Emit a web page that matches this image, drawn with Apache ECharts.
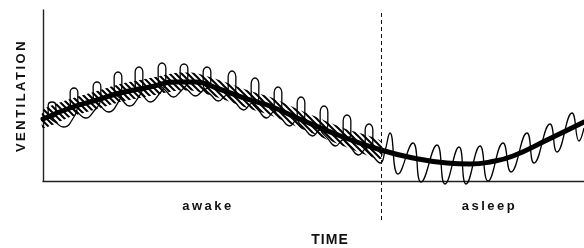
<!DOCTYPE html>
<html><head><meta charset="utf-8">
<script src="https://cdn.jsdelivr.net/npm/echarts@6/dist/echarts.min.js"></script>
<style>html,body{margin:0;padding:0;background:#fff}#c{width:584px;height:248px}</style>
</head><body><div id="c"></div>
<script>
// ---- data (arbitrary units: x = time, y = ventilation) ----
const trend = [[0,62],[27,73],[54,81],[77,88],[107,94],[132,99],[152,99],[176,92],[207,81],[227,75],[259,61],[300,44],[338,31],[370,23],[404,18],[427,17],[447,19],[470,25],[504,41],[541,59]];
const bandUpper = [[0,71],[27,82],[54,90],[77,97],[107,103],[132,108],[152,108],[176,101],[207,90],[227,84],[259,70],[300,53],[338,40]];
const bandLower = [[0,53],[27,64],[54,72],[77,79],[107,85],[132,90],[152,90],[176,83],[207,72],[227,66],[259,52],[300,35],[338,22]];
// awake breaths: looped (coil-like) trace, one loop per breath
const breathsAwake = [
 [0,62],
 [12.75,66.5],[12.85,75.3],[9,79],[5.15,75.3],[5.25,66.5],[14,57.7],[20.5,54],[27,57.7],
 [34.75,78],[34.85,88.6],[31,93],[27.15,88.6],[27.25,78],[36,67.4],[42.5,63],[49,67.4],
 [57.75,84],[57.85,94.6],[54,99],[50.15,94.6],[50.25,84],[59,73.4],[65.5,69],[72,73.4],
 [78.75,92],[78.85,104],[75,109],[71.15,104],[71.25,92],[80,80],[86.5,75],[93,80],
 [99.75,96.5],[99.85,108.9],[96,114],[92.15,108.9],[92.25,96.5],[101,84.1],[107.5,79],[114,84.1],
 [122.75,101],[122.85,113],[119,118],[115.15,113],[115.25,101],[124,89],[130.5,84],[137,89],
 [144.75,101],[144.85,112.3],[141,117],[137.15,112.3],[137.25,101],[146,89.7],[152.5,85],[159,89.7],
 [167.75,97],[167.85,109],[164,114],[160.15,109],[160.25,97],[169,85],[175.5,80],[182,85],
 [192.75,90.5],[192.85,104.3],[189,110],[185.15,104.3],[185.25,90.5],[194,76.7],[200.5,71],[207,76.7],
 [215.75,83],[215.85,97.1],[212,103],[208.15,97.1],[208.25,83],[217,68.9],[223.5,63],[230,68.9],
 [238.75,74.5],[238.85,88.3],[235,94],[231.15,88.3],[231.25,74.5],[240,60.7],[246.5,55],[253,60.7],
 [261.75,64.5],[261.85,78.3],[258,84],[254.15,78.3],[254.25,64.5],[263,50.7],[269.5,45],[276,50.7],
 [284.75,55],[284.85,69.1],[281,75],[277.15,69.1],[277.25,55],[286,40.9],[292.5,35],[299,40.9],
 [307.75,46],[307.85,60.1],[304,66],[300.15,60.1],[300.25,46],[309,31.9],[315.5,26],[322,31.9],
 [329.75,37.5],[329.85,51.3],[326,57],[322.15,51.3],[322.25,37.5],[331,23.7],[337.5,18],[342,30]
];
// asleep breaths: tops and troughs
const breathsAsleep = [
 [347,48],[355,7],[370,38],[378,-1],[394,36],[402,-3],[416,34],[423,-3],
 [437,35],[445,0],[460,38],[468,9],[484,48],[491,18],[507,57],[514,29],
 [529,68],[536,40],[541,53]
];
const regions = [{name:'awake', from:0, to:338, shift:-4}, {name:'asleep', from:338, to:541, shift:7}];
const sleepOnset = 338;
const xMax = 541, yMax = 171;

// letter spacing for the spaced-out lettering
(function(){
  const p = CanvasRenderingContext2D.prototype, f = p.fillText, m = p.measureText;
  const sp = ctx => /14px/.test(ctx.font) ? '1px' : '2.5px';
  p.fillText = function(){ this.letterSpacing = sp(this); return f.apply(this, arguments); };
  p.measureText = function(){ this.letterSpacing = sp(this); return m.apply(this, arguments); };
})();

function hatchPattern(){
  const s = 6, c = document.createElement('canvas');
  c.width = c.height = s;
  const g = c.getContext('2d');
  g.strokeStyle = '#000'; g.lineWidth = 2;
  g.beginPath();
  g.moveTo(-1,-1); g.lineTo(s+1,s+1);
  g.moveTo(s-1,-1); g.lineTo(s+1,1);
  g.moveTo(-1,s-1); g.lineTo(1,s+1);
  g.stroke();
  return {image: c, repeat: 'repeat'};
}
const pattern = hatchPattern();
const font = '"Liberation Sans", Arial, sans-serif';

const chart = echarts.init(document.getElementById('c'), null, {renderer:'canvas'});
chart.setOption({
  animation: false,
  grid: [
    {left:43, right:0, top:10, height:171, outerBoundsMode:'none', containLabel:false},
    {left:43, right:0, top:10, height:210, outerBoundsMode:'none', containLabel:false}
  ],
  xAxis: [
    {type:'value', min:0, max:xMax, gridIndex:0,
     axisLine:{show:true, lineStyle:{color:'#222', width:1.4}}, axisTick:{show:false}, axisLabel:{show:false}, splitLine:{show:false},
     name:'TIME', nameLocation:'middle', nameGap:52,
     nameTextStyle:{fontFamily:font, fontWeight:'bold', fontSize:14, color:'#111', padding:[0,0,0,33]}},
    {type:'value', min:0, max:xMax, gridIndex:1, show:false}
  ],
  yAxis: [
    {type:'value', min:0, max:yMax, gridIndex:0,
     axisLine:{show:true, lineStyle:{color:'#222', width:1.4}}, axisTick:{show:false}, axisLabel:{show:false}, splitLine:{show:false},
     name:'VENTILATION', nameLocation:'middle', nameGap:14, nameRotate:90,
     nameTextStyle:{fontFamily:font, fontWeight:'bold', fontSize:13, color:'#111'}},
    {type:'value', min:0, max:1, gridIndex:1, show:false}
  ],
  series: [
    {type:'custom', coordinateSystem:'cartesian2d', xAxisIndex:0, yAxisIndex:0, z:1,
     data:[[0,0]], silent:true,
     renderItem: function(params, api){
       const pts = bandUpper.map(p => api.coord(p)).concat(bandLower.slice().reverse().map(p => api.coord(p)));
       return {type:'polygon', shape:{points:pts, smooth:0.2}, style:{fill:pattern, stroke:null}};
     }},
    {type:'line', data:breathsAwake.concat(breathsAsleep), smooth:0.5, showSymbol:false, clip:false, z:3,
     lineStyle:{color:'#000', width:1.3}},
    {type:'line', data:trend, smooth:0.5, showSymbol:false, z:4,
     lineStyle:{color:'#000', width:5, cap:'round'},
     markArea:{silent:true, itemStyle:{color:'rgba(0,0,0,0)'},
       label:{show:true, position:'bottom', distance:18, fontFamily:font, fontWeight:'bold', fontSize:13, color:'#111'},
       data: regions.map(r => [{name:r.name, xAxis:r.from, label:{offset:[r.shift,0]}}, {xAxis:r.to}])}},
    {type:'line', xAxisIndex:1, yAxisIndex:1, data:[], showSymbol:false,
     markLine:{silent:true, symbol:'none', label:{show:false},
       lineStyle:{type:[4,3], width:1, color:'#111'},
       data:[{xAxis:sleepOnset}]}}
  ]
});
</script></body></html>
